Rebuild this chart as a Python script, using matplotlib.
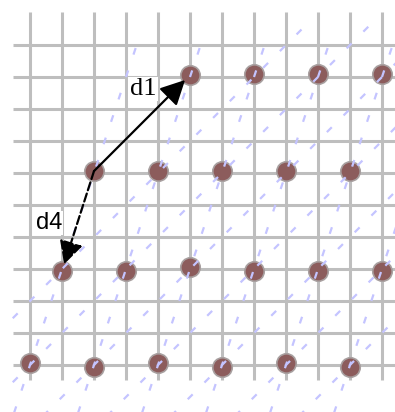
# -*- coding: utf-8 -*-
import numpy as np
import matplotlib
matplotlib.use('Agg')
import matplotlib.pyplot as plt
from matplotlib.patches import Rectangle

# grid in lattice units: columns 0..11, rows 0..10
grid_cols = list(range(12))
grid_rows = list(range(11))

# sample points (lattice units)
pts_x = [0, 2, 4, 6, 8, 10,
         1, 3, 5, 7, 9, 11,
         2, 4, 6, 8, 10,
         5, 7, 9, 11]
pts_y = [0.06, -0.06, 0.06, -0.06, 0.06, -0.06,
         2.94, 2.94, 3.06, 2.94, 2.94, 2.94,
         6.06, 6.06, 6.06, 6.06, 6.06,
         9.06, 9.09, 9.09, 9.09]

# dashed guide lines: x - y/3 = c (steep) and x - y = c (45 deg)
steep_c = [0, 2, 4, 6, 8, 10]
diag_c = [-2, 0, 2, 4, 6, 8, 10]

# vectors: start, end
vec_start = (2, 6.06)
d1_end = (5, 9.06)
d4_end = (1, 2.94)

plt.rcParams['lines.scale_dashes'] = False

fig = plt.figure(figsize=(3.95, 4.12), dpi=100)
ax = fig.add_axes([0, 0, 1, 1])
# pixel x = 30 + 32*gx, pixel y = 365 - 32*gy
ax.set_xlim(-30/32, 365/32)
ax.set_ylim(-47/32, 365/32)
ax.axis('off')

gray = '#bebebe'
for gx in grid_cols:
    ax.plot([gx, gx], [-15/32, 353/32], color=gray, lw=2.2, zorder=1,
            solid_capstyle='butt')
for gy in grid_rows:
    ax.plot([-17/32, 12], [gy, gy], color=gray, lw=2.2, zorder=1,
            solid_capstyle='butt')

ax.plot(pts_x, pts_y, 'o', ms=14, mfc='#8c5c5c', mec='#a8a0a0', mew=1.2,
        zorder=2)

blue = '#c4c4ff'
yy = np.array([-1.6, 11])
clip_steep = Rectangle((-0.55, -1.6), 13, 1.6 + 10.0, transform=ax.transData)
clip_diag = Rectangle((-0.55, -1.6), 13, 1.6 + 10.75, transform=ax.transData)
for c in steep_c:
    ln, = ax.plot(c + yy/3, yy, color=blue, lw=1.6, ls=(0, (5, 12)), zorder=3)
    ln.set_clip_path(clip_steep)
for c in diag_c:
    ln, = ax.plot(c + yy, yy, color=blue, lw=1.6, ls=(3, (5, 12)), zorder=3)
    ln.set_clip_path(clip_diag)

ax.annotate('', xy=d1_end, xytext=vec_start,
            arrowprops=dict(arrowstyle='-|>,head_length=0.75,head_width=0.38',
                            mutation_scale=20, color='black', lw=1.6,
                            shrinkA=0, shrinkB=5), zorder=4)
ax.annotate('', xy=d4_end, xytext=vec_start,
            arrowprops=dict(arrowstyle='-|>,head_length=0.7,head_width=0.36',
                            mutation_scale=20, color='black', lw=1.6,
                            linestyle=(0, (6, 2.5)),
                            shrinkA=0, shrinkB=5), zorder=4)

ax.text(3.53, 8.62, 'd1', family='Liberation Serif', fontsize=19,
        ha='center', va='center', zorder=5,
        bbox=dict(facecolor='white', edgecolor='none', pad=1))
ax.text(0.59, 4.44, 'd4', family='Liberation Sans', fontsize=17,
        ha='center', va='center', zorder=5,
        bbox=dict(facecolor='white', edgecolor='none', pad=1))

fig.savefig('out.png', dpi=100)
